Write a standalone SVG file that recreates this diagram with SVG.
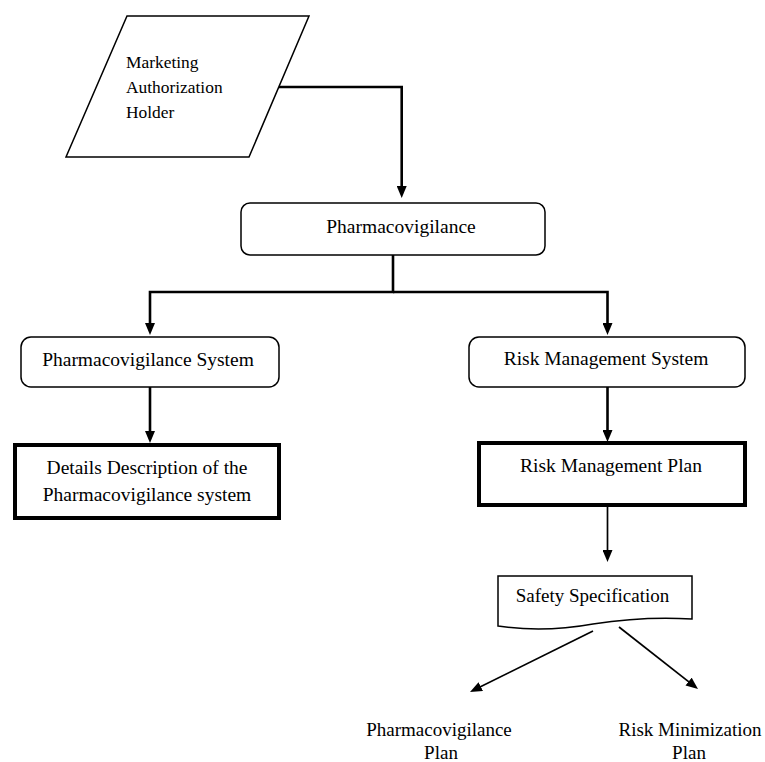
<svg xmlns="http://www.w3.org/2000/svg" width="765" height="762" viewBox="0 0 765 762">
<defs>
<style>
text{font-family:"Liberation Serif","Times New Roman",serif;fill:#000}
.t{font-size:19.5px;text-anchor:middle}
.s{font-size:19px;text-anchor:middle}
.p{font-size:17.4px}
.shape{fill:#fff;stroke:#000;stroke-width:1.5}
.thick{fill:#fff;stroke:#000;stroke-width:4}
.c{fill:none;stroke:#000;stroke-width:2.6;stroke-linejoin:miter}
.c2{fill:none;stroke:#000;stroke-width:1.7}
</style>
<marker id="ah" viewBox="0 0 12 10" refX="6" refY="5" markerWidth="12" markerHeight="10" markerUnits="userSpaceOnUse" orient="auto">
<path d="M0,0 L12,5 L0,10 z" fill="#000"/>
</marker>
</defs>
<rect width="765" height="762" fill="#fff"/>
<g id="mah">
<polygon class="shape" points="127,16 309,16 249,157 66,157"/>
<text class="p" x="126" y="68">Marketing</text>
<text class="p" x="126" y="93">Authorization</text>
<text class="p" x="126" y="118">Holder</text>
</g>
<g id="pv">
<rect class="shape" x="241" y="203" width="304" height="52" rx="9"/>
<text class="t" x="401" y="233">Pharmacovigilance</text>
</g>
<g id="pvs">
<rect class="shape" x="21" y="337" width="258" height="50" rx="10"/>
<text class="t" x="148" y="366">Pharmacovigilance System</text>
</g>
<g id="rms">
<rect class="shape" x="469" y="337" width="276" height="50" rx="10"/>
<text class="t" x="606" y="365">Risk Management System</text>
</g>
<g id="ddpvs">
<rect class="thick" x="15" y="445" width="264" height="73"/>
<text class="t" x="147" y="474">Details Description of the</text>
<text class="t" x="147" y="501">Pharmacovigilance system</text>
</g>
<g id="rmp">
<rect class="thick" x="479" y="443" width="266" height="62"/>
<text class="t" x="611" y="472">Risk Management Plan</text>
</g>
<g id="ss">
<path class="shape" d="M498,576 H692 V619 C660,617 625,619 593,624 C560,630 530,631 498,626 Z"/>
<text class="s" x="592.5" y="602">Safety Specification</text>
</g>
<g id="pvp">
<text class="s" x="439" y="736">Pharmacovigilance</text>
<text class="s" x="441" y="759">Plan</text>
</g>
<g id="rmnp">
<text class="s" x="690" y="736">Risk Minimization</text>
<text class="s" x="689" y="759">Plan</text>
</g>
<g id="connectors">
<path class="c" d="M279,87 H401.7 V192" marker-end="url(#ah)"/>
<path class="c" d="M393,255 V292 H150 V329" marker-end="url(#ah)"/>
<path class="c" d="M393,292 H607.5 V329" marker-end="url(#ah)"/>
<path class="c" d="M150,387 V437" marker-end="url(#ah)"/>
<path class="c" d="M607.5,387 V436" marker-end="url(#ah)"/>
<path class="c2" d="M607.5,507 V556" marker-end="url(#ah)"/>
<path class="c2" d="M593,631 L475.4,689.3" marker-end="url(#ah)"/>
<path class="c2" d="M619,627 L693.3,685.3" marker-end="url(#ah)"/>
</g>
</svg>
